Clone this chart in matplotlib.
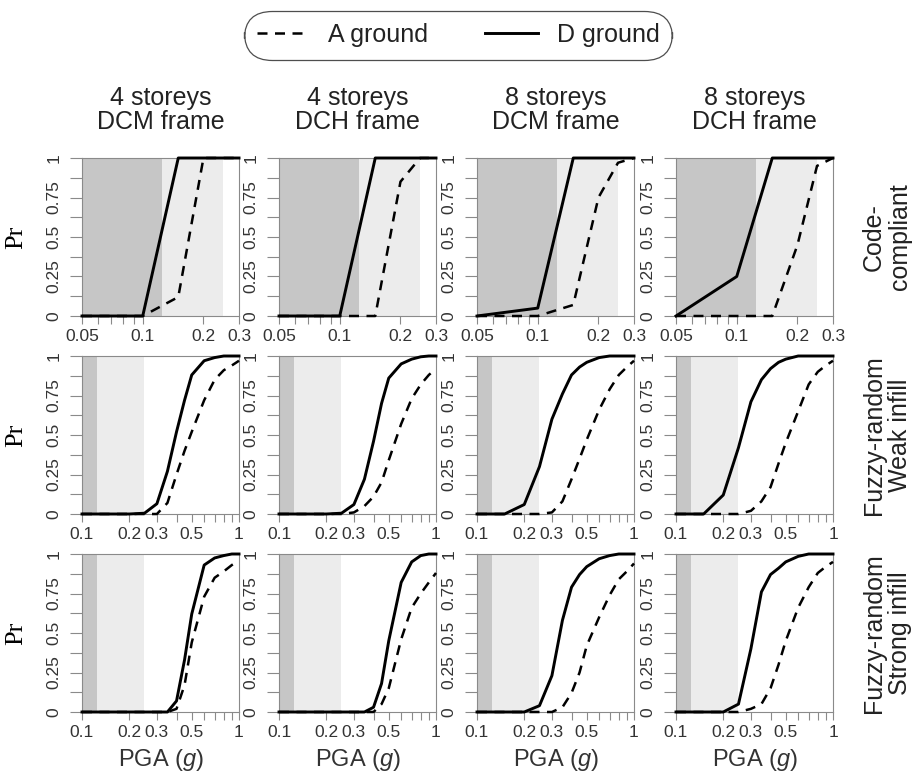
import numpy as np
import matplotlib
matplotlib.use("Agg")
import matplotlib.pyplot as plt
from matplotlib.lines import Line2D

plt.rcParams["font.family"] = ["Liberation Sans", "DejaVu Sans"]
plt.rcParams["mathtext.fontset"] = "custom"
plt.rcParams["mathtext.rm"] = "Liberation Sans"
plt.rcParams["mathtext.it"] = "Liberation Sans:italic"

W, H = 917, 781

col_titles = ["4 storeys\nDCM frame", "4 storeys\nDCH frame",
              "8 storeys\nDCM frame", "8 storeys\nDCH frame"]
row_titles = ["Code-\ncompliant", "Fuzzy-random\nWeak infill", "Fuzzy-random\nStrong infill"]

# PGA grids (g)
pga_cc = [0.05, 0.1, 0.15, 0.2, 0.25, 0.3]
pga_fr = [0.1, 0.15, 0.2, 0.25, 0.3, 0.35, 0.4, 0.45, 0.5, 0.6, 0.7, 0.8, 0.9, 1.0]

# code-compliant, one list per column
d_cc = [[0, 0, 1, 1, 1, 1],
        [0, 0, 1, 1, 1, 1],
        [0, 0.05, 1, 1, 1, 1],
        [0, 0.25, 1, 1, 1, 1]]
a_cc = [[0, 0, 0.12, 1, 1, 1],
        [0, 0, 0, 0.85, 1, 1],
        [0, 0, 0.07, 0.75, 0.97, 1],
        [0, 0, 0, 0.45, 0.95, 1]]

# fuzzy-random, weak infill
d_weak = [[0, 0, 0, 0.005, 0.065, 0.27, 0.52, 0.72, 0.88, 0.97, 0.99, 1, 1, 1],
          [0, 0, 0, 0.005, 0.06, 0.22, 0.46, 0.70, 0.86, 0.95, 0.98, 0.995, 1, 1],
          [0, 0, 0.06, 0.30, 0.60, 0.76, 0.88, 0.93, 0.96, 0.99, 1, 1, 1, 1],
          [0, 0, 0.12, 0.42, 0.71, 0.85, 0.92, 0.96, 0.98, 1, 1, 1, 1, 1]]
a_weak = [[0, 0, 0, 0, 0, 0.07, 0.25, 0.40, 0.52, 0.72, 0.85, 0.91, 0.94, 0.97],
          [0, 0, 0, 0, 0.01, 0.05, 0.11, 0.20, 0.34, 0.57, 0.73, 0.82, 0.88, 0.92],
          [0, 0, 0, 0, 0.01, 0.08, 0.22, 0.35, 0.47, 0.66, 0.79, 0.88, 0.93, 0.97],
          [0, 0, 0, 0, 0.02, 0.08, 0.17, 0.32, 0.45, 0.65, 0.82, 0.90, 0.94, 0.97]]

# fuzzy-random, strong infill
d_strong = [[0, 0, 0, 0, 0, 0, 0.07, 0.33, 0.62, 0.93, 0.975, 0.99, 1, 1],
            [0, 0, 0, 0, 0, 0, 0.03, 0.18, 0.45, 0.82, 0.95, 0.99, 1, 1],
            [0, 0, 0, 0.04, 0.23, 0.58, 0.79, 0.87, 0.92, 0.97, 0.99, 1, 1, 1],
            [0, 0, 0, 0.05, 0.40, 0.76, 0.87, 0.91, 0.95, 0.985, 1, 1, 1, 1]]
a_strong = [[0, 0, 0, 0, 0, 0, 0.02, 0.17, 0.44, 0.73, 0.85, 0.89, 0.93, 0.96],
            [0, 0, 0, 0, 0, 0, 0, 0.05, 0.15, 0.46, 0.66, 0.75, 0.82, 0.88],
            [0, 0, 0, 0, 0, 0.03, 0.12, 0.25, 0.42, 0.60, 0.74, 0.84, 0.89, 0.94],
            [0, 0, 0, 0, 0.02, 0.05, 0.15, 0.30, 0.45, 0.66, 0.79, 0.88, 0.92, 0.95]]

# shaded PGA bands
band_edges = [0.125, 0.25]
band_colors = ["#c6c6c6", "#ececec"]

xlims = [(0.05, 0.3), (0.1, 1.0), (0.1, 1.0)]
xticks_cc = [0.05, 0.06, 0.07, 0.08, 0.09, 0.1, 0.2, 0.3]
xlabels_cc = ["0.05", "", "", "", "", "0.1", "0.2", "0.3"]
xticks_fr = [0.1, 0.2, 0.3, 0.4, 0.5, 0.6, 0.7, 0.8, 0.9, 1.0]
xlabels_fr = ["0.1", "0.2", "0.3", "", "0.5", "", "", "", "", "1"]
yticks = [0, 0.125, 0.25, 0.375, 0.5, 0.625, 0.75, 0.875, 1]
ylabels = ["0", "", "0.25", "", "0.5", "", "0.75", "", "1"]

rows = [(pga_cc, a_cc, d_cc), (pga_fr, a_weak, d_weak), (pga_fr, a_strong, d_strong)]

col_left = [82, 279, 477, 676]
row_top = [158, 356, 554]
pw, ph = 157, 158
frame_col = "#8a8a8a"

fig = plt.figure(figsize=(W / 100, H / 100), dpi=100)

for r, (pga, a_rows, d_rows) in enumerate(rows):
    for c in range(4):
        ax = fig.add_axes([col_left[c] / W, 1 - (row_top[r] + ph) / H, pw / W, ph / H])
        ax.set_xscale("log")
        lo, hi = xlims[r]
        ax.axvspan(lo, band_edges[0], color=band_colors[0], lw=0, zorder=0)
        ax.axvspan(band_edges[0], band_edges[1], color=band_colors[1], lw=0, zorder=0)
        ax.plot(pga, a_rows[c], color="black", lw=1.8, dashes=(4, 3), zorder=3, clip_on=False)
        ax.plot(pga, d_rows[c], color="black", lw=2.1, zorder=4, clip_on=False)
        ax.set_xlim(lo, hi)
        ax.set_ylim(0, 1)
        if r == 0:
            ax.set_xticks(xticks_cc)
            ax.set_xticklabels(xlabels_cc)
        else:
            ax.set_xticks(xticks_fr)
            ax.set_xticklabels(xlabels_fr)
        ax.xaxis.set_minor_locator(plt.NullLocator())
        ax.set_yticks(yticks)
        ax.set_yticklabels(ylabels, rotation=90, va="center")
        ax.tick_params(axis="x", direction="out", length=6, width=0.8, color=frame_col,
                       labelsize=12.5, labelcolor="#333333", pad=3.5)
        ax.tick_params(axis="y", direction="out", length=8.5, width=0.8, color=frame_col,
                       labelsize=12.5, labelcolor="#333333", pad=6)
        for s in ax.spines.values():
            s.set_color(frame_col)
            s.set_linewidth(0.8)
        if c == 0:
            ax.set_ylabel("Pr", family="Liberation Serif", fontsize=19, labelpad=14)
        if r == 2:
            ax.set_xlabel(r"PGA ($\mathit{g}$)", fontsize=17, color="#333333", labelpad=5)
        if r == 0:
            ax.set_title(col_titles[c], fontsize=18, color="#222222", linespacing=0.98, pad=21)
        if c == 3:
            fig.text(887 / W, 1 - (row_top[r] + ph / 2) / H, row_titles[r], rotation=90,
                     ha="center", va="center", fontsize=18, color="#222222", linespacing=1.15)

handles = [Line2D([], [], color="black", lw=1.8, dashes=(4, 3)),
           Line2D([], [], color="black", lw=2.1)]
leg = fig.legend(handles, ["A ground", "D ground"], loc="center", ncol=2,
                 bbox_to_anchor=(458 / W, 1 - 35 / H), fontsize=18, frameon=True,
                 handlelength=2.1, handletextpad=0.75, columnspacing=2.3, borderpad=0.5,
                 borderaxespad=0, fancybox=True)
frame = leg.get_frame()
frame.set_edgecolor("#222222")
frame.set_linewidth(0.9)
frame.set_boxstyle("round,pad=0,rounding_size=1.1")
for t in leg.get_texts():
    t.set_color("#222222")

fig.savefig("out.png", dpi=100)
